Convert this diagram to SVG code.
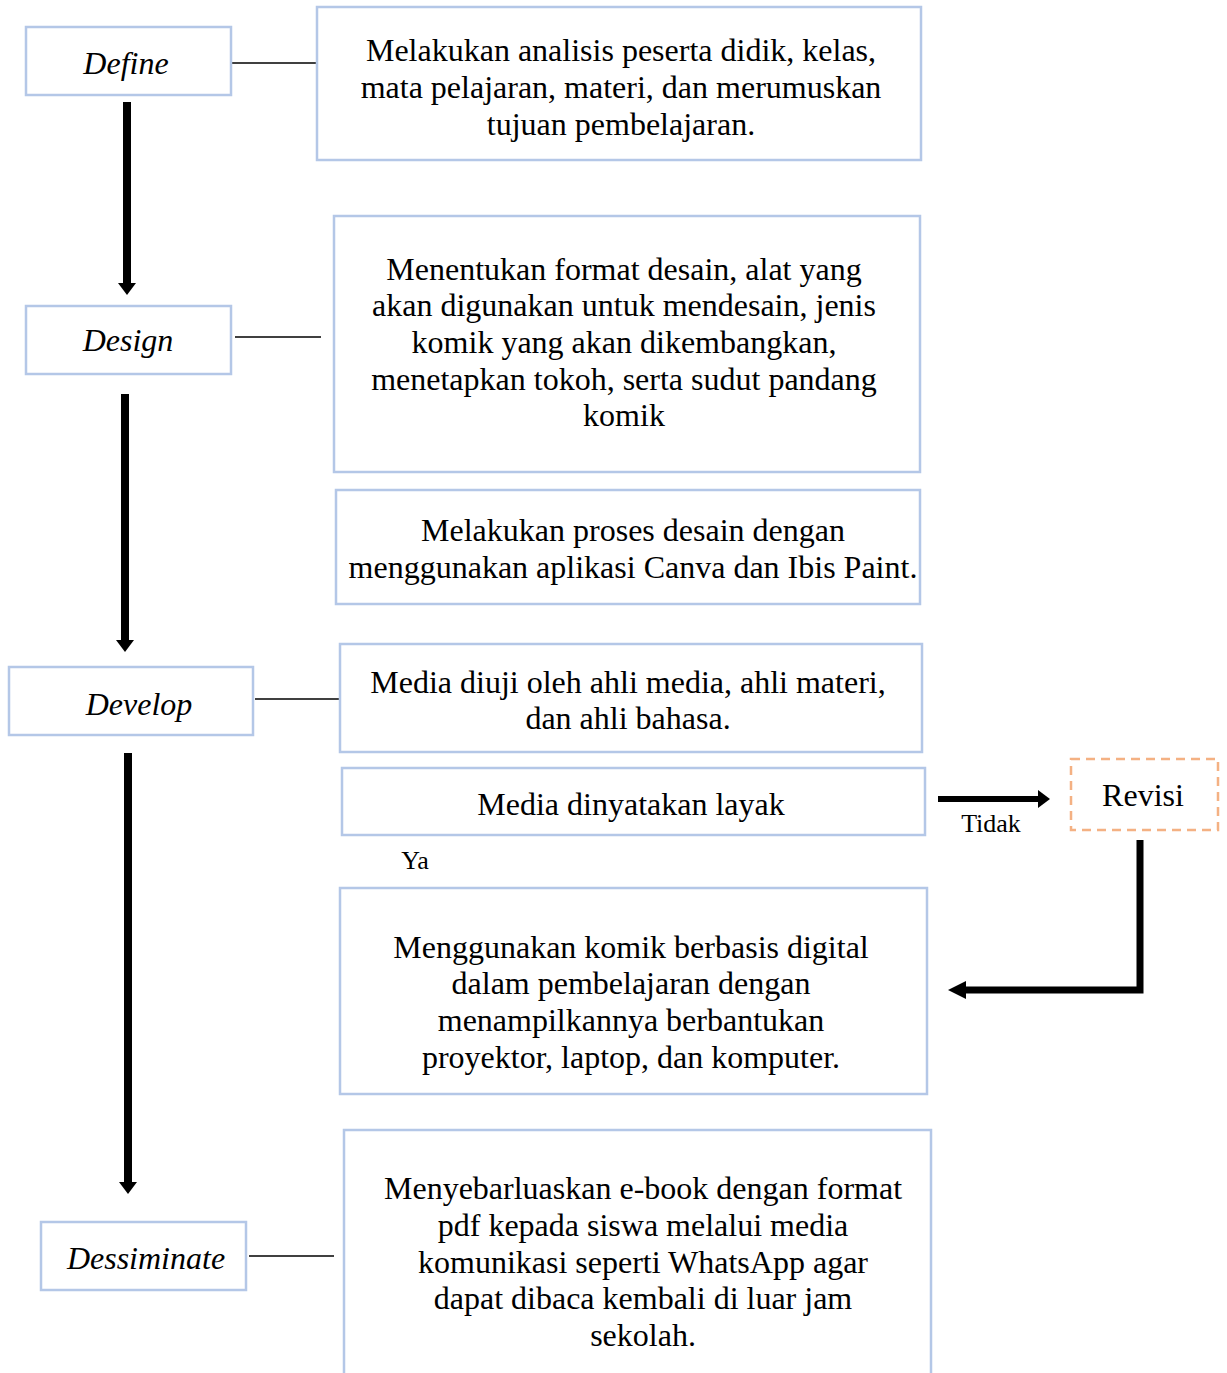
<svg xmlns="http://www.w3.org/2000/svg" width="1227" height="1373" viewBox="0 0 1227 1373">
<defs>
<style>
.box{fill:#fff;stroke:#b4c7e7;stroke-width:2.5}
.rev{fill:#fff;stroke:#f4b183;stroke-width:2.5;stroke-dasharray:9 6}
.t{font-family:"Liberation Serif","Times New Roman",serif;font-size:32px;fill:#000;text-anchor:middle}
.it{font-style:italic}
.sm{font-size:26px}
.thin{stroke:#000;stroke-width:1.5;fill:none}
.thick{stroke:#000;stroke-width:8;fill:none}
</style>
<marker id="ah" markerUnits="userSpaceOnUse" markerWidth="20" markerHeight="20" refX="2" refY="10" orient="auto" viewBox="0 0 20 20">
<path d="M0,1 L12,10 L0,19 Z" fill="#000"/>
</marker>
<marker id="ah2" markerUnits="userSpaceOnUse" markerWidth="22" markerHeight="22" refX="2" refY="11" orient="auto" viewBox="0 0 22 22">
<path d="M0,2 L18,11 L0,20 Z" fill="#000"/>
</marker>
</defs>
<rect width="1227" height="1373" fill="#fff"/>
<g id="connectors">
<line class="thin" x1="231" y1="63" x2="317" y2="63"/>
<line class="thin" x1="235" y1="337" x2="321" y2="337"/>
<line class="thin" x1="255" y1="699" x2="340" y2="699"/>
<line class="thin" x1="249" y1="1256" x2="334" y2="1256"/>
<line class="thick" x1="127" y1="102" x2="127" y2="285" marker-end="url(#ah)"/>
<line class="thick" x1="125" y1="394" x2="125" y2="642" marker-end="url(#ah)"/>
<line class="thick" x1="128" y1="753" x2="128" y2="1184" marker-end="url(#ah)"/>
<line stroke="#000" stroke-width="6" x1="938" y1="799" x2="1040" y2="799" marker-end="url(#ah)"/>
<polyline stroke="#000" stroke-width="7" fill="none" points="1140,840 1140,990 964,990" marker-end="url(#ah2)"/>
<text class="t sm" x="991" y="832">Tidak</text>
<text class="t sm" x="415" y="869">Ya</text>
</g>
<g id="define"><rect class="box" x="26" y="27" width="205" height="68"/><text class="t it" x="126" y="74">Define</text></g>
<g id="box1"><rect class="box" x="317" y="7" width="604" height="153"/>
<text class="t" x="621" y="61">Melakukan analisis peserta didik, kelas,</text>
<text class="t" x="621" y="98">mata pelajaran, materi, dan merumuskan</text>
<text class="t" x="621" y="135">tujuan pembelajaran.</text></g>
<g id="design"><rect class="box" x="26" y="306" width="205" height="68"/><text class="t it" x="128" y="351">Design</text></g>
<g id="box2"><rect class="box" x="334" y="216" width="586" height="256"/>
<text class="t" x="624" y="280">Menentukan format desain, alat yang</text>
<text class="t" x="624" y="316">akan digunakan untuk mendesain, jenis</text>
<text class="t" x="624" y="353">komik yang akan dikembangkan,</text>
<text class="t" x="624" y="390">menetapkan tokoh, serta sudut pandang</text>
<text class="t" x="624" y="426">komik</text></g>
<g id="box3"><rect class="box" x="336" y="490" width="584" height="114"/>
<text class="t" x="633" y="541">Melakukan proses desain dengan</text>
<text class="t" x="633" y="578">menggunakan aplikasi Canva dan Ibis Paint.</text></g>
<g id="develop"><rect class="box" x="9" y="667" width="244" height="68"/><text class="t it" x="139" y="715">Develop</text></g>
<g id="box4"><rect class="box" x="340" y="644" width="582" height="108"/>
<text class="t" x="628" y="693">Media diuji oleh ahli media, ahli materi,</text>
<text class="t" x="628" y="729">dan ahli bahasa.</text></g>
<g id="box5"><rect class="box" x="342" y="768" width="583" height="67"/>
<text class="t" x="631" y="815">Media dinyatakan layak</text></g>
<g id="revisi"><rect class="rev" x="1071" y="759" width="147" height="71"/>
<text class="t" x="1143" y="806">Revisi</text></g>
<g id="box6"><rect class="box" x="340" y="888" width="587" height="206"/>
<text class="t" x="631" y="958">Menggunakan komik berbasis digital</text>
<text class="t" x="631" y="994">dalam pembelajaran dengan</text>
<text class="t" x="631" y="1031">menampilkannya berbantukan</text>
<text class="t" x="631" y="1068">proyektor, laptop, dan komputer.</text></g>
<g id="dessiminate"><rect class="box" x="41" y="1222" width="205" height="68"/><text class="t it" x="146" y="1269">Dessiminate</text></g>
<g id="box7"><path class="box" d="M344,1380 L344,1130 L931,1130 L931,1380"/>
<text class="t" x="643" y="1199">Menyebarluaskan e-book dengan format</text>
<text class="t" x="643" y="1236">pdf kepada siswa melalui media</text>
<text class="t" x="643" y="1273">komunikasi seperti WhatsApp agar</text>
<text class="t" x="643" y="1309">dapat dibaca kembali di luar jam</text>
<text class="t" x="643" y="1346">sekolah.</text></g>
</svg>
